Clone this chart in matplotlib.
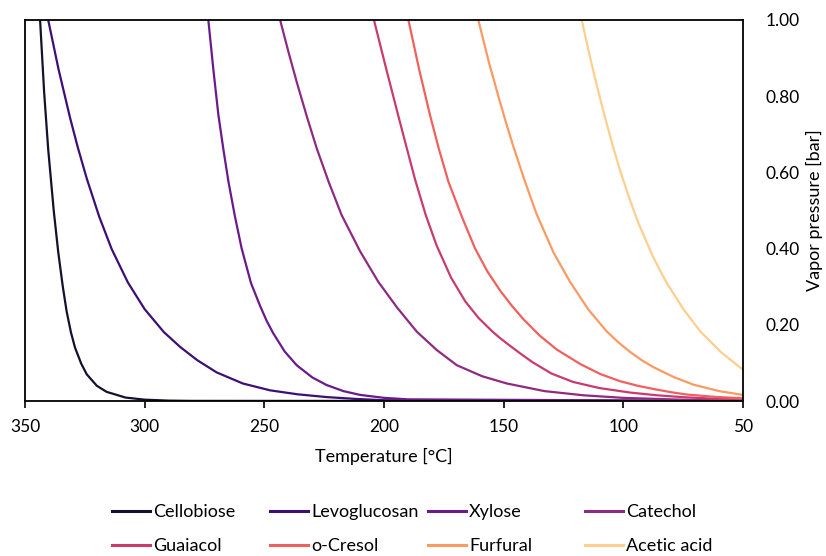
import matplotlib
matplotlib.use("Agg")
import matplotlib.pyplot as plt
from matplotlib.lines import Line2D

plt.rcParams['font.family'] = ['Lato', 'DejaVu Sans']

# ---- data ----
names = ["Cellobiose", "Levoglucosan", "Xylose", "Catechol",
         "Guaiacol", "o-Cresol", "Furfural", "Acetic acid"]

t_cellobiose = [343.7, 342.0, 340.3, 338.0, 336.1, 334.2, 332.6, 330.8, 329.1, 326.5, 324.2, 320.0, 315.9, 308.0, 300.0, 290.0, 280.0, 50.0]
p_cellobiose = [1.0, 0.81, 0.66, 0.50, 0.39, 0.30, 0.235, 0.18, 0.14, 0.098, 0.07, 0.04, 0.024, 0.009, 0.0035, 0.001, 0.0003, 0.0]

t_levoglucosan = [340.3, 336.0, 331.2, 328.0, 324.2, 319.0, 313.8, 307.0, 300.0, 292.0, 285.2, 278.0, 269.9, 259.0, 247.6, 236.0, 224.0, 212.0, 200.0, 50.0]
p_levoglucosan = [1.0, 0.871, 0.744, 0.667, 0.584, 0.484, 0.399, 0.311, 0.241, 0.181, 0.142, 0.107, 0.075, 0.046, 0.028, 0.0175, 0.0103, 0.0055, 0.002, 0.0]

t_xylose = [273.4, 271.3, 269.2, 267.1, 265.0, 262.3, 259.5, 255.6, 251.8, 249.0, 246.3, 241.5, 236.5, 230.0, 224.0, 217.0, 210.0, 200.0, 190.0, 50.0]
p_xylose = [1.0, 0.87, 0.751, 0.66, 0.576, 0.485, 0.401, 0.31, 0.25, 0.21, 0.178, 0.13, 0.094, 0.062, 0.042, 0.026, 0.016, 0.0083, 0.0043, 0.0]

t_catechol = [243.4, 240.0, 236.5, 232.3, 228.1, 223.0, 217.7, 210.0, 202.4, 194.5, 186.3, 178.0, 169.6, 159.0, 148.7, 133.0, 116.7, 100.0, 75.0, 50.0]
p_catechol = [1.0, 0.918, 0.838, 0.748, 0.663, 0.573, 0.488, 0.393, 0.313, 0.245, 0.182, 0.134, 0.094, 0.065, 0.046, 0.026, 0.015, 0.0082, 0.0033, 0.0013]

t_guaiacol = [204.2, 199.0, 194.0, 190.5, 187.0, 182.5, 178.0, 172.0, 166.0, 160.5, 155.0, 151.5, 148.0, 143.0, 138.0, 130.0, 121.0, 110.0, 97.0, 86.0, 75.0, 62.0, 50.0]
p_guaiacol = [1.0, 0.87, 0.748, 0.664, 0.581, 0.487, 0.408, 0.324, 0.261, 0.218, 0.184, 0.165, 0.148, 0.1245, 0.102, 0.072, 0.05, 0.034, 0.022, 0.015, 0.01, 0.006, 0.0037]

t_ocresol = [189.8, 185.3, 180.8, 177.0, 173.1, 167.5, 162.0, 156.8, 151.5, 146.6, 141.8, 135.0, 127.8, 118.0, 109.7, 101.4, 94.0, 87.0, 80.0, 73.5, 62.0, 50.0]
p_ocresol = [1.0, 0.87, 0.751, 0.66, 0.576, 0.484, 0.401, 0.34, 0.29, 0.25, 0.215, 0.172, 0.135, 0.097, 0.071, 0.052, 0.04, 0.031, 0.023, 0.017, 0.011, 0.007]

t_furfural = [160.6, 156.0, 151.5, 148.7, 146.0, 141.1, 136.2, 129.2, 122.3, 114.6, 107.0, 102.1, 97.2, 92.3, 87.5, 79.0, 70.8, 60.0, 50.0]
p_furfural = [1.0, 0.885, 0.784, 0.724, 0.669, 0.576, 0.49, 0.39, 0.313, 0.24, 0.183, 0.154, 0.129, 0.107, 0.089, 0.063, 0.043, 0.026, 0.016]

t_acetic = [117.4, 114.2, 111.1, 107.6, 104.2, 101.4, 97.5, 93.7, 87.8, 81.9, 74.9, 67.9, 59.0, 50.0]
p_acetic = [1.0, 0.91, 0.829, 0.743, 0.665, 0.606, 0.532, 0.467, 0.381, 0.31, 0.241, 0.183, 0.127, 0.082]

x_ticks = [350, 300, 250, 200, 150, 100, 50]
y_ticks = [0.0, 0.2, 0.4, 0.6, 0.8, 1.0]

colors = ["#16102e", "#3d0f75", "#6a1a8a", "#8e2a82",
          "#c93b6f", "#f0605d", "#fb9a63", "#fdcf8e"]

series = [(t_cellobiose, p_cellobiose), (t_levoglucosan, p_levoglucosan),
          (t_xylose, p_xylose), (t_catechol, p_catechol),
          (t_guaiacol, p_guaiacol), (t_ocresol, p_ocresol),
          (t_furfural, p_furfural), (t_acetic, p_acetic)]

fig = plt.figure(figsize=(8.26, 5.56), dpi=100)
ax = fig.add_axes([25/826, 1-401/556, (743-25)/826, (401-20)/556])

for (t, p), c, n in zip(series, colors, names):
    ax.plot(t, p, color=c, lw=1.6, label=n, solid_joinstyle='round')

ax.set_xlim(350, 50)
ax.set_ylim(0, 1.0)
ax.set_xticks(x_ticks)
ax.set_xticklabels([str(v) for v in x_ticks])
ax.set_yticks(y_ticks)
ax.set_yticklabels([f"{v:.2f}" for v in y_ticks])
ax.yaxis.tick_right()
ax.yaxis.set_label_position("right")
ax.tick_params(axis='y', length=0, pad=16, labelsize=12.5)
ax.tick_params(axis='x', length=5, width=1.2, direction='out', pad=8, labelsize=12.5)
for s in ax.spines.values():
    s.set_linewidth(1.3)
    s.set_color('black')
ax.set_xlabel("Temperature [°C]", fontsize=13, labelpad=9)
ax.set_ylabel("Vapor pressure [bar]", fontsize=13, labelpad=5)

# legend: four columns, two rows
col_x = [112, 270, 428, 585]
for i, x in enumerate(col_x):
    handles = [Line2D([], [], color=colors[i], lw=2.2), Line2D([], [], color=colors[i+4], lw=2.2)]
    labels = [names[i], names[i+4]]
    fig.legend(handles, labels, loc='upper left',
               bbox_to_anchor=(x/826, 1-504/556), frameon=False,
               handlelength=2.1, handletextpad=0.17, labelspacing=1.02,
               borderaxespad=0, borderpad=0, fontsize=13)

fig.savefig("out.png", dpi=100)
